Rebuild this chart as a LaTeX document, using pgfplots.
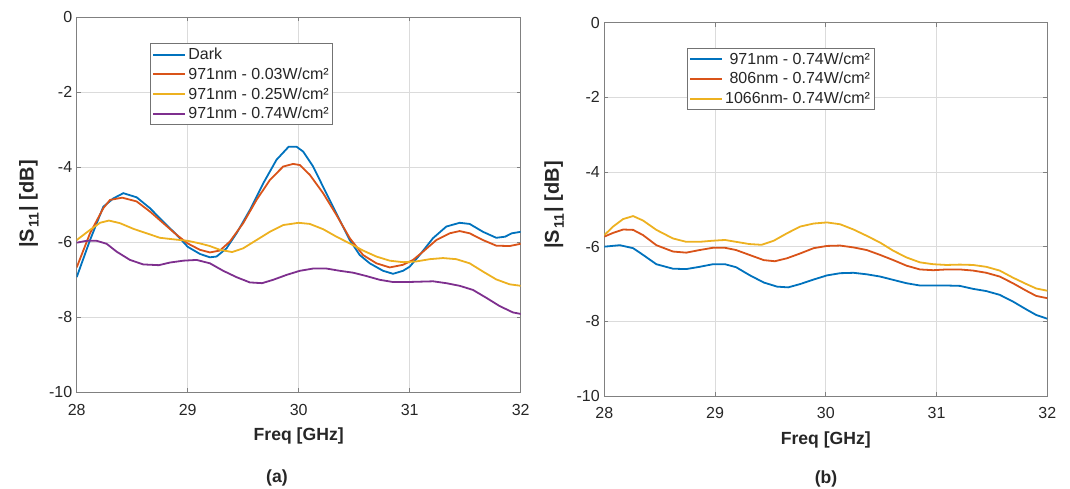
\documentclass[border=0pt]{standalone}
\usepackage{fontspec}
\setmainfont{Liberation Sans}
\usepackage{pgfplots}
\pgfplotsset{compat=1.18}
\definecolor{mblue}{rgb}{0,0.447,0.741}
\definecolor{morange}{rgb}{0.85,0.325,0.098}
\definecolor{myellow}{rgb}{0.929,0.694,0.125}
\definecolor{mpurple}{rgb}{0.494,0.184,0.556}
\definecolor{mtext}{rgb}{0.15,0.15,0.15}
\newcommand{\slabel}{|S\hspace{1pt}\raisebox{-5pt}{\fontsize{14}{14}\selectfont 11}\hspace{1.5pt}| [dB]}
\pgfplotsset{
  mystyle/.style={
    scale only axis,
    xmin=28, xmax=32, ymin=-10, ymax=0,
    xtick={28,29,30,31,32}, xticklabels={28,29,30,31,32},
    ytick={-10,-8,-6,-4,-2,0}, yticklabels={-10,-8,-6,-4,-2,0},
    grid=major,
    major grid style={draw=black!14, line width=0.8pt},
    axis line style={draw=black!50, line width=0.8pt},
    tick style={draw=black!50, line width=0.8pt},
    tick align=inside, major tick length=4pt,
    ticklabel style={font=\fontsize{16}{18}\selectfont, text=mtext},
    xticklabel style={yshift=-8pt},
    yticklabel style={xshift=-1pt},
    xlabel={Freq [GHz]},
    xlabel style={font=\fontsize{17.6}{20}\selectfont\bfseries, text=mtext, at={(axis description cs:0.5,0)}, anchor=center, yshift=-44pt},
    legend style={draw=black!55, line width=0.8pt, fill=white, font=\fontsize{16}{18}\selectfont, text=mtext, inner xsep=2pt, inner ysep=2.5pt, row sep=2.6pt, anchor=north west},
    legend image code/.code={\draw[#1, line width=2pt] (0pt,0pt) -- (32pt,0pt);},
    every axis plot/.append style={line width=1.8pt, mark=none},
  }
}
\begin{document}
\begin{tikzpicture}
\path[use as bounding box] (0pt,0pt) rectangle (1070pt,488pt);
\begin{axis}[mystyle, at={(76.7pt,95.7pt)}, anchor=south west, width=444pt, height=375pt,
  legend style={at={(axis description cs:0.165,0.931)}}, legend cell align=left]
\addplot[mblue] coordinates {
(28.0,-6.93)(28.12,-5.94)(28.24,-5.05)(28.33,-4.83)(28.42,-4.69)(28.54,-4.8)(28.66,-5.09)(28.78,-5.45)(28.90,-5.8)(29.0,-6.12)(29.11,-6.31)(29.2,-6.4)(29.26,-6.38)(29.35,-6.16)(29.44,-5.76)(29.56,-5.14)(29.68,-4.43)(29.80,-3.8)(29.91,-3.45)(29.98,-3.45)(30.04,-3.58)(30.13,-3.98)(30.22,-4.52)(30.34,-5.23)(30.46,-5.94)(30.55,-6.34)(30.64,-6.56)(30.76,-6.76)(30.85,-6.84)(30.94,-6.76)(31.0,-6.65)(31.09,-6.34)(31.21,-5.89)(31.33,-5.58)(31.45,-5.48)(31.54,-5.51)(31.66,-5.72)(31.78,-5.88)(31.86,-5.85)(31.92,-5.76)(32.0,-5.72)};
\addlegendentry{Dark}
\addplot[morange] coordinates {
(28.0,-6.67)(28.12,-5.76)(28.24,-5.09)(28.30,-4.87)(28.41,-4.81)(28.54,-4.91)(28.66,-5.18)(28.78,-5.49)(28.90,-5.8)(29.0,-6.03)(29.11,-6.2)(29.2,-6.27)(29.29,-6.22)(29.38,-5.98)(29.5,-5.49)(29.62,-4.87)(29.74,-4.34)(29.86,-3.98)(29.95,-3.91)(30.01,-3.94)(30.10,-4.2)(30.22,-4.69)(30.34,-5.27)(30.46,-5.89)(30.58,-6.34)(30.70,-6.56)(30.82,-6.67)(30.94,-6.6)(31.03,-6.47)(31.12,-6.25)(31.24,-5.94)(31.36,-5.76)(31.45,-5.7)(31.54,-5.76)(31.66,-5.94)(31.78,-6.09)(31.90,-6.1)(32.0,-6.04)};
\addlegendentry{971nm - 0.03W/cm²}
\addplot[myellow] coordinates {
(28.0,-5.94)(28.12,-5.67)(28.21,-5.48)(28.29,-5.42)(28.39,-5.49)(28.51,-5.64)(28.63,-5.76)(28.75,-5.88)(28.87,-5.92)(29.0,-5.96)(29.11,-6.03)(29.2,-6.1)(29.29,-6.2)(29.4,-6.26)(29.5,-6.16)(29.62,-5.94)(29.74,-5.72)(29.86,-5.54)(30.0,-5.48)(30.10,-5.51)(30.22,-5.65)(30.34,-5.85)(30.46,-6.03)(30.58,-6.22)(30.70,-6.38)(30.82,-6.49)(30.94,-6.53)(31.06,-6.51)(31.18,-6.45)(31.30,-6.42)(31.42,-6.45)(31.54,-6.56)(31.66,-6.78)(31.78,-6.99)(31.90,-7.12)(32.0,-7.16)};
\addlegendentry{971nm - 0.25W/cm²}
\addplot[mpurple] coordinates {
(28.0,-6.01)(28.09,-5.96)(28.18,-5.96)(28.27,-6.04)(28.36,-6.25)(28.48,-6.47)(28.60,-6.59)(28.74,-6.61)(28.84,-6.54)(28.96,-6.49)(29.08,-6.47)(29.2,-6.56)(29.32,-6.76)(29.44,-6.93)(29.56,-7.07)(29.67,-7.09)(29.77,-7.0)(29.89,-6.87)(30.01,-6.76)(30.13,-6.70)(30.25,-6.70)(30.37,-6.76)(30.49,-6.81)(30.61,-6.9)(30.73,-7.0)(30.85,-7.06)(30.97,-7.06)(31.09,-7.05)(31.21,-7.04)(31.33,-7.09)(31.45,-7.16)(31.57,-7.27)(31.69,-7.48)(31.81,-7.7)(31.93,-7.87)(32.0,-7.91)};
\addlegendentry{971nm - 0.74W/cm²}
\end{axis}
\begin{axis}[mystyle, at={(604.3pt,92pt)}, anchor=south west, width=443pt, height=373.3pt,
  legend style={at={(axis description cs:0.186,0.933)}}, legend cell align=right]
\addplot[mblue] coordinates {
(28.0,-6.0)(28.14,-5.96)(28.26,-6.04)(28.35,-6.22)(28.47,-6.47)(28.62,-6.59)(28.74,-6.6)(28.86,-6.54)(28.98,-6.47)(29.09,-6.47)(29.19,-6.55)(29.31,-6.76)(29.44,-6.96)(29.56,-7.07)(29.66,-7.09)(29.77,-7.0)(29.89,-6.88)(30.01,-6.77)(30.13,-6.71)(30.25,-6.70)(30.37,-6.74)(30.49,-6.8)(30.61,-6.89)(30.73,-6.98)(30.85,-7.04)(30.97,-7.04)(31.09,-7.04)(31.21,-7.05)(31.33,-7.13)(31.45,-7.19)(31.57,-7.29)(31.69,-7.47)(31.81,-7.68)(31.90,-7.83)(32.0,-7.93)};
\addlegendentry{971nm - 0.74W/cm²}
\addplot[morange] coordinates {
(28.0,-5.73)(28.08,-5.63)(28.17,-5.54)(28.26,-5.55)(28.35,-5.69)(28.47,-5.96)(28.62,-6.13)(28.74,-6.16)(28.86,-6.09)(28.98,-6.03)(29.09,-6.03)(29.19,-6.09)(29.31,-6.22)(29.44,-6.36)(29.54,-6.39)(29.65,-6.31)(29.77,-6.18)(29.89,-6.04)(30.01,-5.98)(30.13,-5.97)(30.25,-6.02)(30.37,-6.09)(30.49,-6.22)(30.61,-6.36)(30.73,-6.51)(30.85,-6.61)(30.97,-6.63)(31.09,-6.61)(31.21,-6.61)(31.33,-6.64)(31.45,-6.7)(31.57,-6.80)(31.69,-6.98)(31.81,-7.18)(31.90,-7.32)(32.0,-7.38)};
\addlegendentry{806nm - 0.74W/cm²}
\addplot[myellow] coordinates {
(28.0,-5.69)(28.08,-5.46)(28.17,-5.26)(28.26,-5.18)(28.35,-5.30)(28.47,-5.55)(28.62,-5.78)(28.74,-5.87)(28.86,-5.87)(28.98,-5.84)(29.09,-5.82)(29.19,-5.87)(29.31,-5.93)(29.42,-5.95)(29.53,-5.84)(29.65,-5.64)(29.77,-5.46)(29.89,-5.38)(30.01,-5.35)(30.13,-5.40)(30.25,-5.54)(30.37,-5.71)(30.49,-5.89)(30.61,-6.11)(30.73,-6.29)(30.85,-6.42)(30.97,-6.47)(31.09,-6.49)(31.21,-6.48)(31.33,-6.49)(31.45,-6.54)(31.57,-6.64)(31.69,-6.83)(31.81,-7.0)(31.90,-7.12)(32.0,-7.18)};
\addlegendentry{1066nm- 0.74W/cm²}
\end{axis}
\node[font=\fontsize{17.6}{20}\selectfont\bfseries, text=mtext] at (277pt,10pt) {(a)};
\node[font=\fontsize{17.6}{20}\selectfont\bfseries, text=mtext] at (826pt,9pt) {(b)};
\node[font=\fontsize{20}{22}\selectfont\bfseries, text=mtext, rotate=90] at (29pt,284pt) {\slabel};
\node[font=\fontsize{20}{22}\selectfont\bfseries, text=mtext, rotate=90] at (554pt,283pt) {\slabel};
\end{tikzpicture}
\end{document}
